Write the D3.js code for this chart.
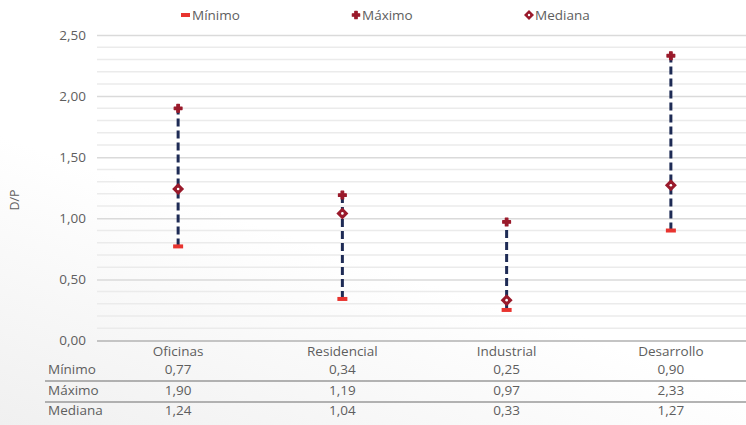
<!DOCTYPE html>
<html><head><meta charset="utf-8">
<script src="https://cdnjs.cloudflare.com/ajax/libs/d3/7.8.5/d3.min.js"></script>
<style>
html,body{margin:0;padding:0;background:#fff;}
svg{display:block;font-family:"Open Sans",Lato,sans-serif;}
</style></head>
<body><svg id="c" width="746" height="425"></svg>
<script>
const categories = ["Oficinas","Residencial","Industrial","Desarrollo"];
const minimo  = [0.77, 0.34, 0.25, 0.90];
const maximo  = [1.90, 1.19, 0.97, 2.33];
const mediana = [1.24, 1.04, 0.33, 1.27];
const yTicks = [0, 0.5, 1.0, 1.5, 2.0, 2.5];
const rowLabels = ["Mínimo","Máximo","Mediana"];
const fmt = v => d3.format(".2f")(v).replace(".", ",");

const svg = d3.select("#c");
const W = 746, H = 425;
const FONT = "'Open Sans',Lato,sans-serif";
const TXT = "#5e5e5e";
const FS = 13.5;

// faint background
const defs = svg.append("defs");
const g1 = defs.append("linearGradient").attr("id","bg").attr("x1","0").attr("y1","1").attr("x2","0.6").attr("y2","0");
g1.append("stop").attr("offset","0").attr("stop-color","#f0f0f0");
g1.append("stop").attr("offset","0.5").attr("stop-color","#ffffff");
g1.append("stop").attr("offset","1").attr("stop-color","#ffffff");
svg.append("rect").attr("width",W).attr("height",H).attr("fill","url(#bg)");

const x = d3.scaleBand().domain(categories).range([96, 753]);
const y = d3.scaleLinear().domain([0, 2.5]).range([340.5, 35]);
const xL = 97, xR = W;

// minor grid
const minor = d3.range(0, 2.501, 0.1).map(v => +v.toFixed(2));
svg.append("g").selectAll("line").data(minor.filter(v => Math.round(v*10) % 5 !== 0)).join("line")
  .attr("x1", xL).attr("x2", xR).attr("y1", d => y(d)).attr("y2", d => y(d))
  .attr("stroke", "#ebebeb").attr("stroke-width", 1.5);

// y axis with major grid
const yAxis = d3.axisLeft(y).tickValues(yTicks).tickFormat(fmt).tickSize(-(xR - xL)).tickPadding(11);
const ga = svg.append("g").attr("transform", `translate(${xL},0)`).call(yAxis);
ga.select(".domain").remove();
ga.selectAll(".tick line").attr("stroke", d => d === 0 ? "#c4c4c4" : "#dadada").attr("stroke-width", d => d === 0 ? 2 : 1.5);
ga.selectAll(".tick text").attr("fill", TXT).attr("font-size", FS).attr("font-family", FONT);

// y label
svg.append("text").attr("transform", `translate(19,200) rotate(-90)`).attr("text-anchor","middle")
  .attr("fill",TXT).attr("font-size",12.5).text("D/P");

// shapes
const diamond = "M0,-6L6,0L0,6L-6,0Z";
const crossSym = d3.symbol().type(d3.symbolCross).size(34);

// whiskers
const cx = c => x(c) + x.bandwidth()/2;
const plot = svg.append("g");
plot.selectAll("line.w").data(categories).join("line").attr("class","w")
  .attr("x1", cx).attr("x2", cx)
  .attr("y1", (d,i) => y(minimo[i])).attr("y2", (d,i) => y(maximo[i]))
  .attr("stroke", "#1e2b55").attr("stroke-width", 3).attr("stroke-dasharray", "8,4");

// min markers
plot.selectAll("rect.mn").data(categories).join("rect").attr("class","mn")
  .attr("x", d => cx(d) - 5).attr("y", (d,i) => y(minimo[i]) - 2)
  .attr("width", 10).attr("height", 4).attr("fill", "#e8342f");

// max markers
plot.selectAll("path.mx").data(categories).join("path").attr("class","mx")
  .attr("transform", (d,i) => `translate(${cx(d)},${y(maximo[i])})`)
  .attr("d", crossSym).attr("fill", "#9a1a2b").attr("stroke","#9a1a2b").attr("stroke-width",1.2).attr("stroke-linejoin","round");

// median markers
plot.selectAll("path.md").data(categories).join("path").attr("class","md")
  .attr("transform", (d,i) => `translate(${cx(d)},${y(mediana[i])})`)
  .attr("d", diamond).attr("fill", "#9a1a2b");
plot.selectAll("circle.md").data(categories).join("circle").attr("class","md")
  .attr("cx", cx).attr("cy", (d,i) => y(mediana[i])).attr("r", 1.3).attr("fill", "#fff");

// legend
const leg = svg.append("g").attr("font-size", FS).attr("fill", TXT);
leg.append("rect").attr("x", 181).attr("y", 13).attr("width", 9).attr("height", 4).attr("fill", "#e8342f");
leg.append("text").attr("x", 192).attr("y", 20).attr("fill",TXT).text(rowLabels[0]);
leg.append("path").attr("transform","translate(356,15)").attr("d", d3.symbol().type(d3.symbolCross).size(30)).attr("fill","#9a1a2b").attr("stroke","#9a1a2b").attr("stroke-width",1.2).attr("stroke-linejoin","round");
leg.append("text").attr("x", 362).attr("y", 20).attr("fill",TXT).text(rowLabels[1]);
leg.append("path").attr("transform","translate(529,15)").attr("d", "M0,-5L5,0L0,5L-5,0Z").attr("fill","#9a1a2b");
leg.append("circle").attr("cx",529).attr("cy",15).attr("r",1.2).attr("fill","#fff");
leg.append("text").attr("x", 535).attr("y", 20).attr("fill",TXT).text(rowLabels[2]);

// table
const tbl = svg.append("g").attr("font-size", FS).attr("fill", TXT);
tbl.selectAll("text.cat").data(categories).join("text").attr("class","cat")
  .attr("x", cx).attr("y", 356).attr("text-anchor","middle").attr("fill",TXT).text(d => d);
const rows = [minimo, maximo, mediana];
const rowY = [374, 395, 415];
rows.forEach((vals, r) => {
  tbl.append("text").attr("x", 48).attr("y", rowY[r]).attr("fill",TXT).text(rowLabels[r]);
  tbl.selectAll(null).data(categories).join("text")
    .attr("x", cx).attr("y", rowY[r]).attr("text-anchor","middle").attr("fill",TXT)
    .text((d,i) => fmt(vals[i]));
});
[381, 402].forEach(ly => {
  tbl.append("line").attr("x1", 45).attr("x2", W).attr("y1", ly).attr("y2", ly)
    .attr("stroke", "#9a9a9a").attr("stroke-width", 1.5);
});
</script></body></html>
